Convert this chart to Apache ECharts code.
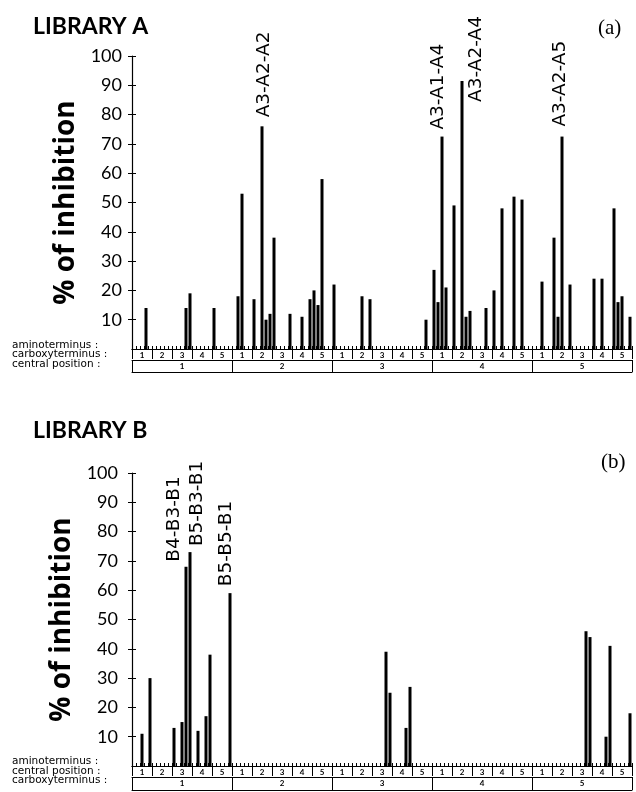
<!DOCTYPE html>
<html>
<head>
<meta charset="utf-8">
<script src="https://cdn.jsdelivr.net/npm/echarts@6/dist/echarts.min.js"></script>
<style>
  html, body { margin: 0; background: #fff; }
  #chart { width: 636px; height: 792px; }
</style>
</head>
<body>
<div id="chart"></div>
<script>
// 125 compounds per library: central position (1-5) x carboxyterminus (1-5) x aminoterminus (1-5)
const digits = ['1', '2', '3', '4', '5'];

// library A: slot index (0-124) and % of inhibition
const libASlots  = [3, 13, 14, 20, 26, 27, 30, 32, 33, 34, 35, 39, 42, 44, 45, 46, 47, 50, 57, 59,
                    73, 75, 76, 77, 78, 80, 82, 83, 84, 88, 90, 92, 95, 97,
                    102, 105, 106, 107, 109, 115, 117, 120, 121, 122, 124];
const libAValues = [14, 14, 19, 14, 18, 53, 17, 76, 10, 12, 38, 12, 11, 17, 20, 15, 58, 22, 18, 17,
                    10, 27, 16, 72.5, 21, 49, 91.5, 11, 13, 14, 20, 48, 52, 51,
                    23, 38, 11, 72.5, 22, 24, 24, 48, 16, 18, 11];
const libAPeakSlots = [32, 77, 82, 107];
const libAPeakNames = ['A3-A2-A2', 'A3-A1-A4', 'A3-A2-A4', 'A3-A2-A5'];

// library B
const libBSlots  = [2, 4, 10, 12, 13, 14, 16, 18, 19, 24, 63, 64, 68, 69, 113, 114, 118, 119, 124];
const libBValues = [11, 30, 13, 15, 68, 73, 12, 17, 38, 59, 39, 25, 13, 27, 46, 44, 10, 41, 18];
const libBPeakSlots = [13, 14, 24];
const libBPeakNames = ['B4-B3-B1', 'B5-B3-B1', 'B5-B5-B1'];

// category names for the 125 slots
const slotNames = [];
digits.forEach(c => digits.forEach(b => digits.forEach(a => slotNames.push(a + '-' + b + '-' + c))));
const carboxyRow = [];
digits.forEach(() => digits.forEach(d => carboxyRow.push(d)));

// label offsets are in the rotated frame: [along text (up), across text (right)]
const labelOffsets = {
  'A3-A2-A2': [3, 2], 'A3-A1-A4': [1, -4], 'A3-A2-A4': [-27, 14], 'A3-A2-A5': [4, -2],
  'B4-B3-B1': [-1, -12], 'B5-B3-B1': [0, 7], 'B5-B5-B1': [1, -4]
};

function buildData(slots, values, peakSlots, peakNames) {
  const data = slotNames.map(() => null);
  slots.forEach((s, i) => { data[s] = values[i]; });
  peakSlots.forEach((s, i) => {
    data[s] = {
      value: data[s],
      label: {
        show: true, formatter: peakNames[i], rotate: 90, position: 'top',
        align: 'left', verticalAlign: 'middle', distance: 6,
        offset: labelOffsets[peakNames[i]],
        color: '#000', fontFamily: 'DejaVu Sans', fontSize: 18.5
      }
    };
  });
  return data;
}

const font = 'Lato';

function yAxes(grid, margin) {
  return [{
    gridIndex: grid, type: 'value', min: 0, max: 100, interval: 10,
    name: '% of inhibition', nameLocation: 'middle', nameGap: 50,
    nameTextStyle: { fontFamily: 'Open Sans', fontSize: 28, fontWeight: 'bold', color: '#000' },
    axisLine: { show: true, lineStyle: { color: '#000', width: 1.2 } },
    axisTick: { show: true, length: 4, lineStyle: { color: '#000' } },
    axisLabel: { showMinLabel: false, margin: margin, color: '#000', fontFamily: font, fontSize: 18 },
    splitLine: { show: false }
  }, {
    gridIndex: grid, type: 'value', min: 0, max: 100, interval: 10, position: 'left',
    axisLine: { show: false },
    axisTick: { show: true, inside: true, length: 4, lineStyle: { color: '#000' } },
    axisLabel: { show: false }, splitLine: { show: false }
  }];
}

function xAxes(grid, offsets) {
  const line = { show: true, lineStyle: { color: '#000', width: 1 } };
  const small = { color: '#000', fontFamily: font, fontSize: 8, fontWeight: 'bold', margin: 1, interval: 0 };
  return [{
    gridIndex: grid, type: 'category', data: slotNames, position: 'bottom',
    axisLine: line,
    axisTick: { show: true, inside: true, interval: 0, length: 3, lineStyle: { color: '#000' } },
    axisLabel: { show: false }
  }, {
    gridIndex: grid, type: 'category', data: carboxyRow, position: 'bottom', offset: offsets[0],
    axisLine: line,
    axisTick: { show: true, interval: 0, length: offsets[1] - offsets[0], lineStyle: { color: '#000' } },
    axisLabel: small
  }, {
    gridIndex: grid, type: 'category', data: digits, position: 'bottom', offset: offsets[1],
    axisLine: line,
    axisTick: { show: true, interval: 0, length: offsets[2] - offsets[1], lineStyle: { color: '#000' } },
    axisLabel: Object.assign({}, small, { margin: 2 })
  }, {
    gridIndex: grid, type: 'category', data: digits, position: 'bottom', offset: offsets[2],
    axisLine: line, axisTick: { show: false }, axisLabel: { show: false }
  }];
}

function rowText(text, x, y, size, family, weight) {
  return {
    type: 'text', x: x, y: y,
    style: { text: text, fill: '#000', fontFamily: family || 'DejaVu Sans', fontSize: size || 10.5,
             fontWeight: weight || 'normal', verticalAlign: 'middle' }
  };
}

const chart = echarts.init(document.getElementById('chart'));
chart.setOption({
  animation: false,
  grid: [
    { left: 132, right: 4, top: 56, bottom: 443 },
    { left: 132, right: 4, top: 473, bottom: 26 }
  ],
  xAxis: xAxes(0, [1, 11, 23]).concat(xAxes(1, [1, 11, 24])),
  yAxis: yAxes(0, 10).concat(yAxes(1, 14)),
  graphic: [
    rowText('LIBRARY A', 33, 27, 23, font, 'bold'),
    rowText('(a)', 598, 28, 21, 'Liberation Serif'),
    rowText('LIBRARY B', 33, 431, 23, font, 'bold'),
    rowText('(b)', 601, 462, 21, 'Liberation Serif'),
    rowText('aminoterminus :', 12, 345),
    rowText('carboxyterminus :', 12, 354.5),
    rowText('central position :', 12, 364),
    rowText('aminoterminus :', 12, 761),
    rowText('central position :', 12, 771),
    rowText('carboxyterminus :', 12, 780.5)
  ],
  series: [{
    type: 'bar', xAxisIndex: 0, yAxisIndex: 0, barWidth: 3,
    itemStyle: { color: '#000' },
    data: buildData(libASlots, libAValues, libAPeakSlots, libAPeakNames)
  }, {
    type: 'bar', xAxisIndex: 4, yAxisIndex: 2, barWidth: 3,
    itemStyle: { color: '#000' },
    data: buildData(libBSlots, libBValues, libBPeakSlots, libBPeakNames)
  }]
});
</script>
</body>
</html>
